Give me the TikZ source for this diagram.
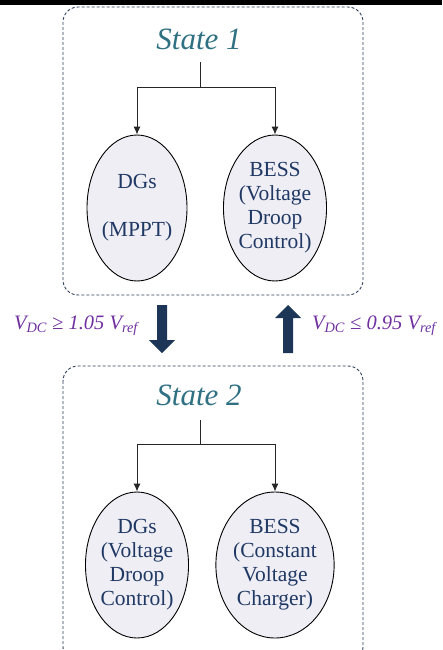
\documentclass[tikz,border=0pt]{standalone}
\usepackage{fontspec}
\setmainfont{Liberation Serif}
\usetikzlibrary{shapes.geometric,arrows.meta}
\definecolor{boxc}{HTML}{2E3F5C}
\definecolor{titlec}{HTML}{2F7183}
\definecolor{ellfill}{HTML}{EFEEF4}
\definecolor{elltext}{HTML}{1F3864}
\definecolor{bigarrow}{HTML}{1D3557}
\definecolor{labc}{HTML}{7030A0}
\begin{document}
\begin{tikzpicture}[x=1pt,y=-1pt,
  statebox/.style={draw=boxc,line width=0.9pt,dash pattern=on 3pt off 2pt,rounded corners=15pt},
  title/.style={text=titlec,font=\fontsize{31}{31}\selectfont\itshape,inner sep=0pt,anchor=base},
  ell/.style={ellipse,draw=black,line width=0.9pt,fill=ellfill,minimum width=100pt,minimum height=146pt,inner sep=0pt,align=center,text=elltext,font=\fontsize{21.5}{24}\selectfont},
  stem/.style={draw=black!85,line width=1pt},
  conn/.style={stem,-{Latex[length=8pt,width=7pt]}},
  bigarr/.style={fill=bigarrow,draw=none},
  cond/.style={text=labc,font=\fontsize{20.5}{20.5}\selectfont\itshape,inner sep=0pt,anchor=base}
]
\useasboundingbox (0,0) rectangle (442,650);
\fill[black] (0,0) rectangle (442,5);
% State 1
\draw[statebox] (63,7) rectangle (363,295);
\node[title] (t1) at (199,50) {State 1};
\coordinate (s1) at (200,62);
\coordinate (j1) at (200,88);
\node[ell] (dg1) at (137,208) {DGs\\\mbox{}\\(MPPT)};
\node[ell] (be1) at (275,208) {BESS\\(Voltage\\Droop\\Control)};
\draw[stem] (s1) -- (j1);
\draw[conn] (j1) -| (dg1.north);
\draw[conn] (j1) -| (be1.north);
% State 2
\draw[statebox] (63,366) rectangle (363,662);
\node[title] (t2) at (199,405) {State 2};
\coordinate (s2) at (200,420);
\coordinate (j2) at (200,444);
\node[ell] (dg2) at (137,565) {DGs\\(Voltage\\Droop\\Control)};
\node[ell] (be2) at (275,565) {BESS\\(Constant\\Voltage\\Charger)};
\draw[stem] (s2) -- (j2);
\draw[conn] (j2) -| (dg2.north);
\draw[conn] (j2) -| (be2.north);
% transition arrows
\fill[bigarr] (157,305) -- (167,305) -- (167,340) -- (175,340) -- (162,353) -- (149,340) -- (157,340) -- cycle;
\fill[bigarr] (283,353) -- (293,353) -- (293,318) -- (301,318) -- (288,305) -- (275,318) -- (283,318) -- cycle;
\node[cond] (c1) at (76,329) {V\textsubscript{DC} ≥ 1.05 V\textsubscript{ref}};
\node[cond] (c2) at (374,329) {V\textsubscript{DC} ≤ 0.95 V\textsubscript{ref}};
\end{tikzpicture}
\end{document}
